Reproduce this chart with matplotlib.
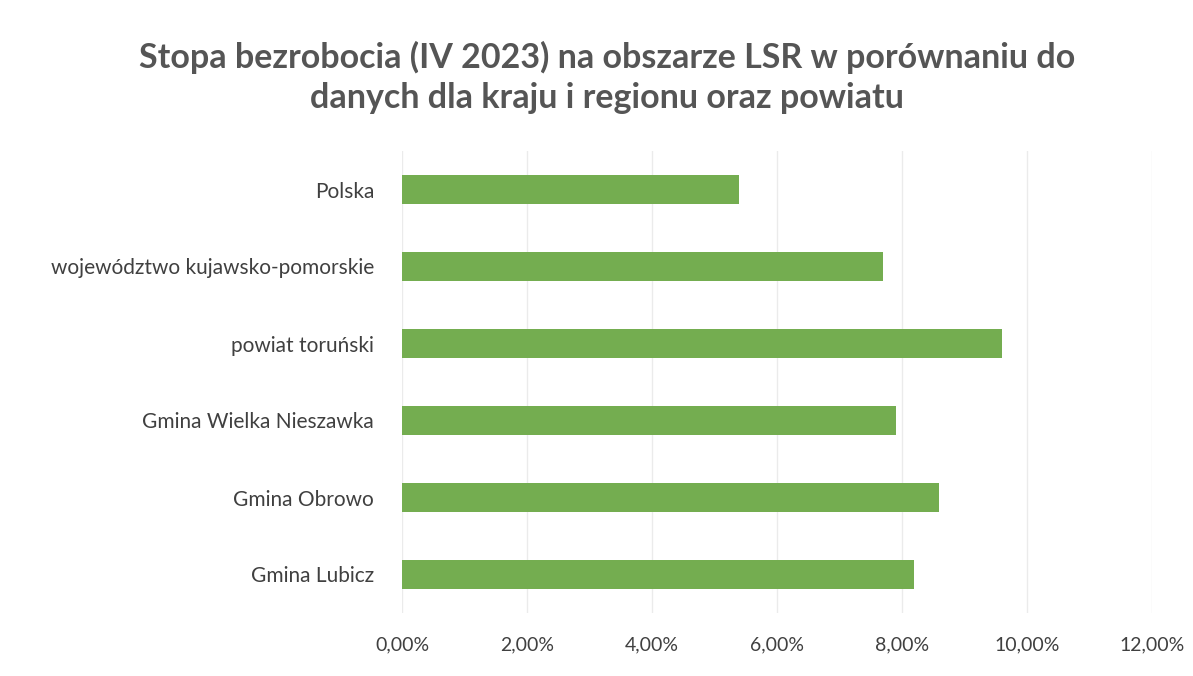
import matplotlib.pyplot as plt
from matplotlib.ticker import FuncFormatter

# dane
categories = ['Polska', 'województwo kujawsko-pomorskie', 'powiat toruński',
              'Gmina Wielka Nieszawka', 'Gmina Obrowo', 'Gmina Lubicz']
values = [5.4, 7.7, 9.6, 7.9, 8.6, 8.2]
xticks = [0, 2, 4, 6, 8, 10, 12]

plt.rcParams['font.family'] = ['Lato', 'DejaVu Sans']

fig = plt.figure(figsize=(11.93, 6.76), dpi=100)
ax = fig.add_axes([402 / 1193, 1 - 613 / 676, 750 / 1193, 462 / 676])

y = list(range(len(categories)))
ax.barh(y, values, height=0.38, color='#74ad50', zorder=3)
ax.set_ylim(len(categories) - 0.5, -0.5)
ax.set_xlim(0, 12)
ax.set_yticks(y)
ax.set_yticklabels(categories, fontsize=15, color='#404040')
ax.set_xticks(xticks)
ax.xaxis.set_major_formatter(FuncFormatter(lambda v, p: f'{v:.2f}%'.replace('.', ',')))
ax.tick_params(axis='x', labelsize=14, labelcolor='#404040', length=0, pad=17)
ax.tick_params(axis='y', length=0, pad=20)
ax.grid(axis='x', color='#ebebeb', linewidth=1, zorder=0)
for s in ax.spines.values():
    s.set_visible(False)

fig.text(0.509, 0.885, 'Stopa bezrobocia (IV 2023) na obszarze LSR w porównaniu do\n'
         'danych dla kraju i regionu oraz powiatu',
         ha='center', va='center', fontsize=24.5, fontweight='bold', color='#555555',
         linespacing=1.3)

fig.savefig('out.png', dpi=100)
